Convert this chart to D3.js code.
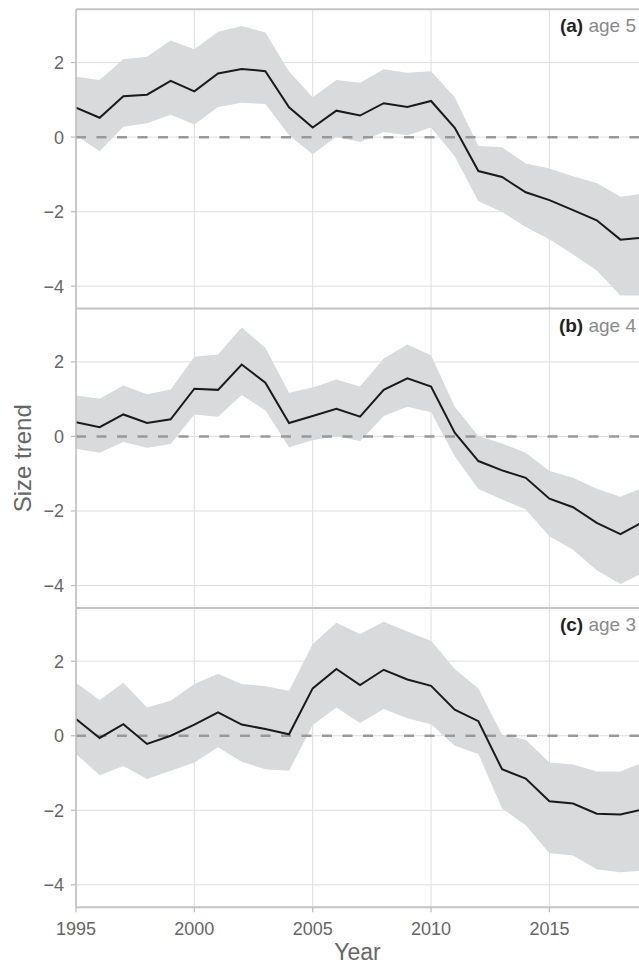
<!DOCTYPE html>
<html>
<head>
<meta charset="utf-8">
<script src="https://cdn.jsdelivr.net/npm/d3@7"></script>
<style>
  body { margin: 0; background: #fff; }
  text { font-family: "Liberation Sans", Arial, Helvetica, sans-serif; }
</style>
</head>
<body>
<div class="chart"></div>
<script>
const years = d3.range(1995, 2020);

// panel (a) age 5
const fitA = [0.79, 0.52, 1.10, 1.14, 1.51, 1.23, 1.71, 1.83, 1.77, 0.80, 0.26, 0.71, 0.58, 0.91, 0.81, 0.97, 0.25, -0.91, -1.07, -1.48, -1.69, -1.96, -2.23, -2.75, -2.69];
const upA  = [1.62, 1.53, 2.09, 2.16, 2.59, 2.36, 2.83, 2.98, 2.81, 1.76, 1.07, 1.53, 1.46, 1.82, 1.73, 1.77, 1.07, -0.24, -0.27, -0.71, -0.84, -1.05, -1.23, -1.60, -1.51];
const loA  = [0.05, -0.38, 0.28, 0.37, 0.60, 0.34, 0.81, 0.92, 0.89, 0.05, -0.46, 0.01, -0.13, 0.14, 0.05, 0.26, -0.51, -1.72, -2.01, -2.41, -2.74, -3.15, -3.58, -4.25, -4.25];

// panel (b) age 4
const fitB = [0.38, 0.25, 0.59, 0.36, 0.46, 1.28, 1.25, 1.93, 1.44, 0.36, 0.55, 0.74, 0.53, 1.25, 1.56, 1.34, 0.10, -0.66, -0.91, -1.11, -1.67, -1.90, -2.32, -2.62, -2.28];
const upB  = [1.10, 1.01, 1.37, 1.13, 1.26, 2.14, 2.20, 2.92, 2.38, 1.17, 1.31, 1.53, 1.34, 2.09, 2.47, 2.18, 0.80, 0.01, -0.19, -0.44, -0.93, -1.11, -1.40, -1.62, -1.36];
const loB  = [-0.33, -0.44, -0.15, -0.30, -0.20, 0.59, 0.53, 1.11, 0.70, -0.29, -0.10, 0.01, -0.13, 0.55, 0.80, 0.65, -0.53, -1.41, -1.69, -1.96, -2.68, -3.04, -3.59, -3.96, -3.64];

// panel (c) age 3
const fitC = [0.45, -0.06, 0.31, -0.22, 0.00, 0.30, 0.63, 0.30, 0.18, 0.04, 1.27, 1.79, 1.36, 1.77, 1.51, 1.34, 0.70, 0.39, -0.90, -1.15, -1.76, -1.82, -2.09, -2.11, -1.97];
const upC  = [1.42, 0.96, 1.42, 0.76, 0.94, 1.39, 1.66, 1.39, 1.33, 1.21, 2.46, 3.03, 2.73, 3.06, 2.80, 2.55, 1.79, 1.27, 0.03, -0.11, -0.72, -0.77, -0.96, -0.96, -0.70];
const loC  = [-0.49, -1.06, -0.81, -1.16, -0.94, -0.72, -0.31, -0.70, -0.90, -0.94, 0.29, 0.76, 0.34, 0.72, 0.47, 0.31, -0.27, -0.49, -1.95, -2.40, -3.15, -3.21, -3.58, -3.66, -3.62];

const panelTags = ["(a)", "(b)", "(c)"];
const panelAges = ["age 5", "age 4", "age 3"];
const fits = [fitA, fitB, fitC];
const ups = [upA, upB, upC];
const los = [loA, loB, loC];

const xTicks = [1995, 2000, 2005, 2010, 2015];
const yTicks = [-4, -2, 0, 2];

const W = 639, H = 965;
const left = 76, right = 639;
const top0 = 9.3, panelH = 299.3;

const svg = d3.select(".chart").append("svg")
  .attr("width", W)
  .attr("height", H);

const x = d3.scaleLinear()
  .domain([1995, 2019])
  .range([left, left + 24 * 23.67]);

svg.append("clipPath").attr("id", "clipall")
  .append("rect")
  .attr("x", left).attr("y", 0)
  .attr("width", right - left).attr("height", H);

fits.forEach((fit, p) => {
  const pTop = top0 + p * panelH;
  const pBot = pTop + panelH;
  const y = d3.scaleLinear().domain([-4.6, 3.43]).range([pBot, pTop]);

  const g = svg.append("g");
  const plot = g.append("g").attr("clip-path", "url(#clipall)");

  // grid
  plot.selectAll(".vg").data(xTicks).join("line")
    .attr("x1", d => x(d)).attr("x2", d => x(d))
    .attr("y1", pTop).attr("y2", pBot)
    .attr("stroke", "#dedede").attr("stroke-width", 1);
  plot.selectAll(".hg").data(yTicks).join("line")
    .attr("x1", left).attr("x2", right)
    .attr("y1", d => y(d)).attr("y2", d => y(d))
    .attr("stroke", "#dedede").attr("stroke-width", 1);

  const rows = years.map((yr, i) => ({ yr, fit: fit[i], up: ups[p][i], lo: los[p][i] }));

  plot.append("path")
    .datum(rows)
    .attr("d", d3.area().x(d => x(d.yr)).y0(d => y(d.lo)).y1(d => y(d.up)))
    .attr("fill", "#d9dadc");

  plot.append("line")
    .attr("x1", left).attr("x2", right)
    .attr("y1", y(0)).attr("y2", y(0))
    .attr("stroke", "#999")
    .attr("stroke-width", 2.5)
    .attr("stroke-dasharray", "10,10.5");

  plot.append("path")
    .datum(rows)
    .attr("d", d3.line().x(d => x(d.yr)).y(d => y(d.fit)))
    .attr("fill", "none")
    .attr("stroke", "#1a1a1a")
    .attr("stroke-width", 2);

  // y axis ticks + labels
  g.selectAll(".yt").data(yTicks).join("line")
    .attr("x1", left - 5).attr("x2", left)
    .attr("y1", d => y(d)).attr("y2", d => y(d))
    .attr("stroke", "#bbb").attr("stroke-width", 1.2);
  g.selectAll(".yl").data(yTicks).join("text")
    .attr("x", left - 12).attr("y", d => y(d))
    .attr("dy", "0.36em")
    .attr("text-anchor", "end")
    .attr("fill", "#666")
    .attr("font-size", 18)
    .text(d => d < 0 ? "\u2212" + Math.abs(d) : d);

  // top border of panel
  g.append("line")
    .attr("x1", left).attr("x2", right)
    .attr("y1", pTop).attr("y2", pTop)
    .attr("stroke", "#c4c4c4").attr("stroke-width", 2);

  const lab = g.append("text")
    .attr("x", 636).attr("y", pTop + 23)
    .attr("text-anchor", "end")
    .attr("font-size", 19);
  lab.append("tspan").attr("font-weight", "bold").attr("fill", "#222").text(panelTags[p]);
  lab.append("tspan").attr("fill", "#8a8a8a").text(" " + panelAges[p]);
});

const bottom = top0 + 3 * panelH;

// left axis line
svg.append("line")
  .attr("x1", left).attr("x2", left)
  .attr("y1", top0).attr("y2", bottom)
  .attr("stroke", "#bbb").attr("stroke-width", 1.5);

// bottom axis
svg.append("line")
  .attr("x1", left).attr("x2", right)
  .attr("y1", bottom).attr("y2", bottom)
  .attr("stroke", "#c4c4c4").attr("stroke-width", 2);

svg.selectAll(".xt").data(xTicks).join("line")
  .attr("x1", d => x(d)).attr("x2", d => x(d))
  .attr("y1", bottom).attr("y2", bottom + 5)
  .attr("stroke", "#bbb").attr("stroke-width", 1.2);

svg.selectAll(".xl").data(xTicks).join("text")
  .attr("x", d => x(d)).attr("y", 935)
  .attr("text-anchor", "middle")
  .attr("fill", "#666")
  .attr("font-size", 18)
  .text(d => d);

svg.append("text")
  .attr("x", (left + right) / 2).attr("y", 960)
  .attr("text-anchor", "middle")
  .attr("fill", "#666")
  .attr("font-size", 23)
  .text("Year");

svg.append("text")
  .attr("transform", "translate(31," + ((top0 + bottom) / 2) + ") rotate(-90)")
  .attr("text-anchor", "middle")
  .attr("fill", "#666")
  .attr("font-size", 24)
  .text("Size trend");
</script>
</body>
</html>
